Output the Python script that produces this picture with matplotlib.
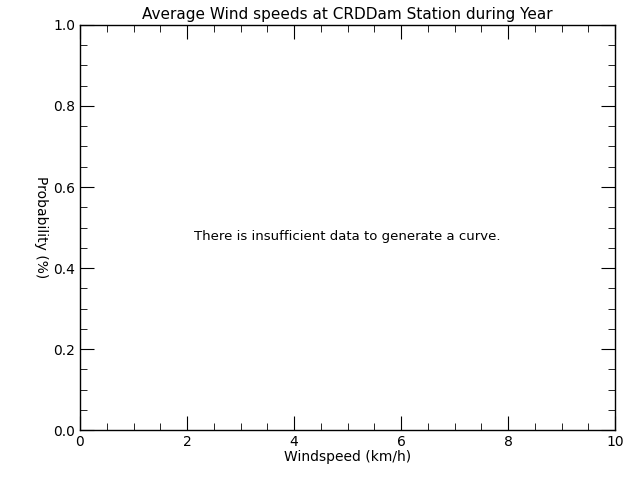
import matplotlib
matplotlib.use("Agg")
import matplotlib.pyplot as plt
from matplotlib.ticker import MultipleLocator

title = "Average Wind speeds at CRDDam Station during Year"
xlabel = "Windspeed (km/h)"
ylabel = "Probability (%)"
message = "There is insufficient data to generate a curve."
xlim = [0, 10]
ylim = [0.0, 1.0]

fig = plt.figure(figsize=(6.4, 4.8), dpi=100)
ax = fig.add_axes([0.125, 0.104, 0.836, 0.844])
ax.set_xlim(xlim)
ax.set_ylim(ylim)
ax.xaxis.set_major_locator(MultipleLocator(2))
ax.xaxis.set_minor_locator(MultipleLocator(0.5))
ax.yaxis.set_major_locator(MultipleLocator(0.2))
ax.yaxis.set_minor_locator(MultipleLocator(0.05))
ax.set_xticklabels([])
ax.xaxis.set_major_formatter(plt.FuncFormatter(lambda v, p: f"{v:.0f}"))
ax.yaxis.set_major_formatter(plt.FuncFormatter(lambda v, p: f"{v:.1f}"))
ax.tick_params(which="both", direction="in", top=True, right=True, labelsize=10, color="black")
ax.tick_params(which="major", length=10)
ax.tick_params(which="minor", length=5)
for s in ax.spines.values():
    s.set_linewidth(1)
ax.set_title(title, fontsize=11, pad=4)
ax.set_xlabel(xlabel, fontsize=10, labelpad=1)
ax.set_ylabel(ylabel, fontsize=10, rotation=270, labelpad=14)
ax.text(5.0, 0.479, message, ha="center", va="center", fontsize=9.5)
fig.savefig("out.png", dpi=100, facecolor="white")
